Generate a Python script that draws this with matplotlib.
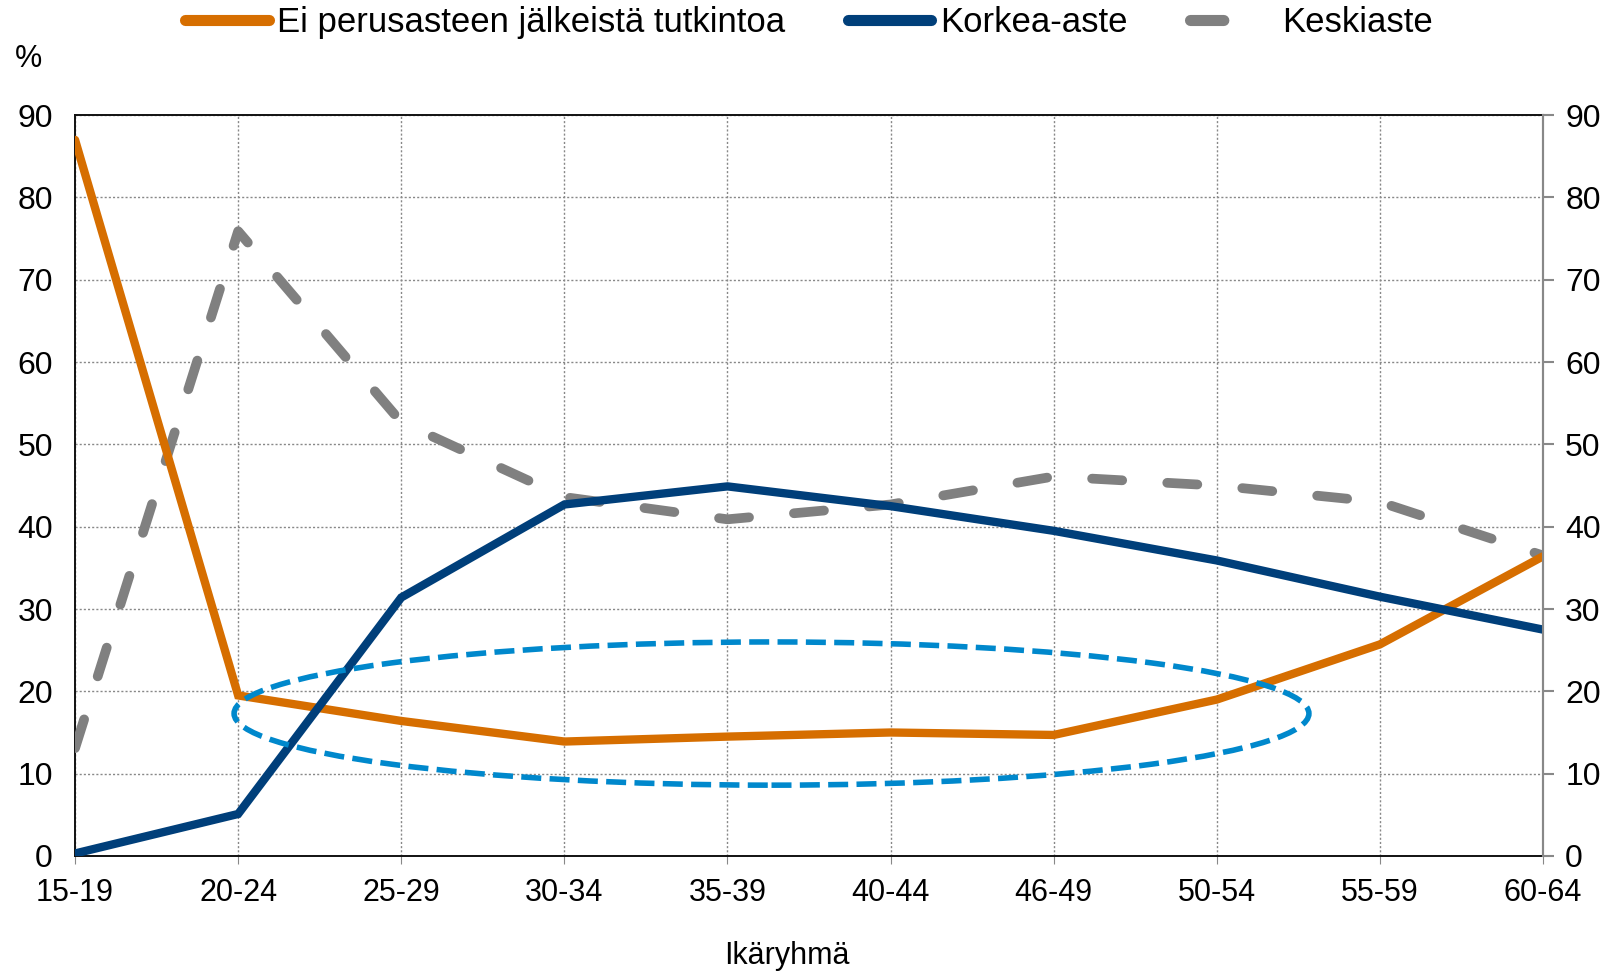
import matplotlib.pyplot as plt
from matplotlib.patches import Ellipse

plt.rcParams["font.family"] = ["Liberation Sans", "DejaVu Sans"]

ages = ["15-19", "20-24", "25-29", "30-34", "35-39", "40-44", "46-49", "50-54", "55-59", "60-64"]
ei_tutkintoa = [87.0, 19.5, 16.4, 13.9, 14.5, 15.0, 14.7, 19.0, 25.7, 36.4]
korkea = [0.3, 5.1, 31.4, 42.7, 44.9, 42.5, 39.5, 35.9, 31.5, 27.5]
keski = [13.1, 75.9, 52.7, 43.6, 40.9, 42.7, 46.1, 45.0, 43.0, 36.5]
yticks = list(range(0, 91, 10))

fig = plt.figure(figsize=(16.14, 9.76), dpi=100)
ax = fig.add_axes([0.0465, 0.123, 0.9095, 0.759])
x = list(range(len(ages)))

ax.plot(x, ei_tutkintoa, color="#D66E00", lw=6, label="Ei perusasteen jälkeistä tutkintoa",
        solid_capstyle="round", solid_joinstyle="miter", zorder=4)
ax.plot(x, korkea, color="#003F7A", lw=6, label="Korkea-aste", solid_capstyle="round",
        solid_joinstyle="miter", zorder=4)
ax.plot(x, keski, color="#808080", lw=7, ls=(0, (3.1, 4.64)), dash_capstyle="round",
        label="Keskiaste", zorder=3)

# highlight ellipse
ell = Ellipse((4.27, 17.3), 6.59, 17.4, fill=False, ec="#0088CC", lw=4, ls=(0, (3.6, 1.5)), zorder=5)
ax.add_patch(ell)

ax.set_xlim(0, 9)
ax.set_ylim(0, 90)
ax.set_xticks(x)
ax.set_xticklabels(ages)
ax.set_yticks(yticks)
ax.grid(True, color="#888888", ls=(0, (1.5, 1.5)), lw=1.0)
ax.tick_params(axis="x", labelsize=22, length=6, color="#888888", pad=10)
ax.tick_params(axis="y", labelsize=23, length=0, pad=16)
for s in ["left", "bottom", "top"]:
    ax.spines[s].set_color("#111111")
    ax.spines[s].set_linewidth(1.4)
ax.spines["right"].set_color("#888888")
ax.spines["right"].set_linewidth(1.5)

ax2 = ax.twinx()
ax2.set_ylim(0, 90)
ax2.set_yticks(yticks)
ax2.tick_params(axis="y", labelsize=23, length=8, color="#888888", width=1.5, pad=8)
for s in ["left", "bottom", "top"]:
    ax2.spines[s].set_visible(False)
ax2.spines["right"].set_color("#888888")
ax2.spines["right"].set_linewidth(1.5)

ax.set_xlabel("Ikäryhmä", fontsize=22)
ax.xaxis.set_label_coords(0.485, -0.115)
fig.text(0.009, 0.94, "%", fontsize=22, va="center")

leg = ax.legend(loc="lower center", bbox_to_anchor=(0.5, 1.06), ncol=3, frameon=False,
                fontsize=25, handlelength=2.4, handletextpad=0.25, columnspacing=1.8)
for h in leg.get_lines():
    h.set_linewidth(8)
    h.set_solid_capstyle("round")
leg.get_lines()[2].set_linestyle((0, (3.0, 10)))

fig.savefig("out.png", dpi=100)
